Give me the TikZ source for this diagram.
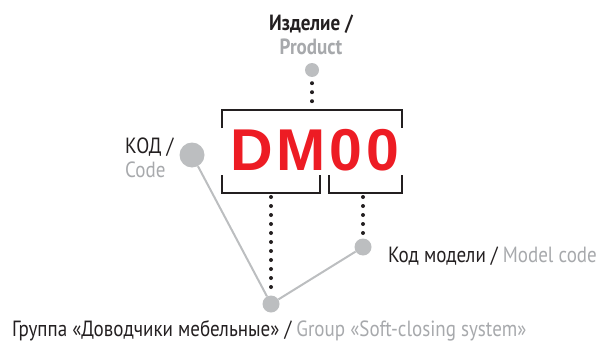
\documentclass[tikz,border=0pt]{standalone}
\usepackage{fontspec}
\usepackage{xcolor}
\usepackage{tikz}
\setmainfont{PT Sans}[FakeStretch=0.865]
\newfontfamily\dmfont{Liberation Sans}[LetterSpace=6.5]
\definecolor{ink}{HTML}{231F20}
\definecolor{codered}{HTML}{ED1C24}
\definecolor{pingray}{HTML}{BCBEC0}
\definecolor{txtgray}{HTML}{A7A9AC}

\begin{document}
\begin{tikzpicture}[x=1pt, y=-1pt,
  brk/.style={line width=2.6pt, ink},
  dotcol/.style={line width=4pt, ink, line cap=round, dash pattern=on 0pt off 9pt},
  link/.style={line width=2pt, pingray},
  pin/.style={circle, fill=pingray, inner sep=0pt},
  lbl/.style={inner sep=0pt, text depth=0pt, font=\fontsize{22}{24.4}\selectfont}]
\useasboundingbox (0,0) rectangle (601,342);

% The code itself
\node[anchor=base west, inner sep=0pt, codered, font=\fontsize{59}{60}\dmfont\bfseries] (dm) at (230,170) {DM00};

% Brackets
\draw[brk] (222,128) |- (402,110) -- (402,128);
\draw[brk] (222,175) |- (320,193) -- (320,175);
\draw[brk] (329,175) |- (402,193) -- (402,175);
\coordinate (topmid) at (312,110);
\coordinate (leftmid) at (271,193);
\coordinate (rightmid) at (363,193);

% Pins
\node[pin, minimum size=14pt] (prod) at (312,70) {};
\node[pin, minimum size=25pt] (code) at (192,155) {};
\node[pin, minimum size=17pt] (model) at (363,247) {};
\node[pin, minimum size=17pt] (group) at (271,304) {};

% Dotted leaders
\draw[dotcol, shorten <=6pt, shorten >=8.5pt] (prod) -- (topmid);
\draw[dotcol, shorten <=4pt, shorten >=8pt] (leftmid) -- (group);
\draw[dotcol, shorten <=4pt, shorten >=5pt] (rightmid) -- (model);

% Grey links
\draw[link] (code) -- (group) -- (model);

% Labels
\node[lbl, anchor=south, align=center, font=\fontsize{22}{24.4}\selectfont\bfseries] (prodlbl) at (311,55)
  {\textcolor{ink}{Изделие /}\\\textcolor{txtgray}{Product}};
\node[lbl, anchor=south west, align=left] (codelbl) at (125,177.7)
  {\textcolor{ink}{КОД /}\\\textcolor{txtgray}{Code}};
\node[lbl, anchor=base west] (modellbl) at (388,262)
  {\textcolor{ink}{Код модели /} \textcolor{txtgray}{Model code}};
\node[lbl, anchor=base west] (grouplbl) at (12,336.7)
  {\textcolor{ink}{Группа «Доводчики мебельные» /} \textcolor{txtgray}{Group «Soft-closing system»}};

\end{tikzpicture}
\end{document}
